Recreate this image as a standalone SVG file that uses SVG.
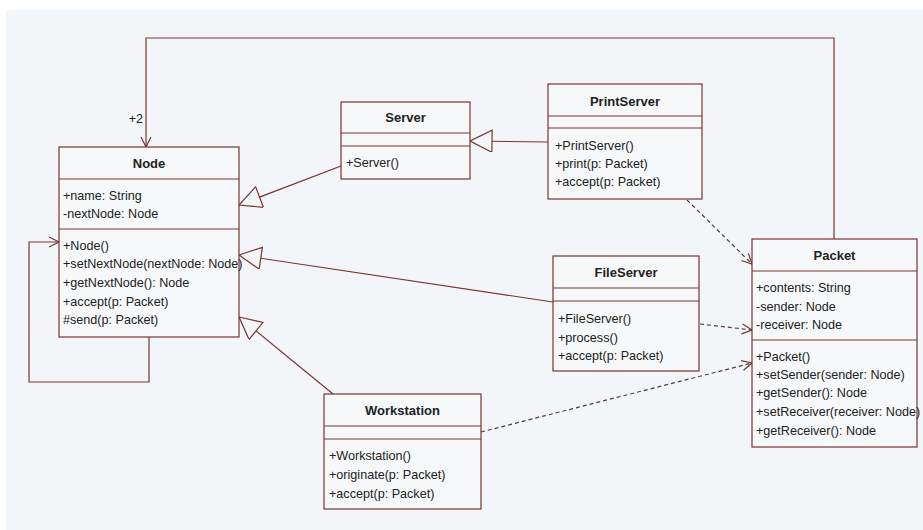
<svg xmlns="http://www.w3.org/2000/svg" width="923" height="530" viewBox="0 0 923 530">
  <style>
    .box { fill: #f6f8f9; stroke: #7a3434; stroke-width: 1.2; }
    .sep { stroke: #7a3434; stroke-width: 1.2; }
    .t { font-family: "Liberation Sans", Arial, sans-serif; font-size: 12.6px; fill: #222; }
    .title { font-family: "Liberation Sans", Arial, sans-serif; font-size: 13px; font-weight: bold; fill: #222; text-anchor: middle; }
    .edge { fill: none; stroke: #7a3434; stroke-width: 1.2; }
    .dep { fill: none; stroke: #5a3a3a; stroke-width: 1.2; stroke-dasharray: 4 3; }
  </style>
  <defs>
    <marker id="gen" viewBox="0 0 24 24" refX="23" refY="11" markerWidth="24" markerHeight="24" markerUnits="userSpaceOnUse" orient="auto">
      <path d="M1,0 L23,11 L1,22 Z" fill="#f3f6f8" stroke="#7a3434" stroke-width="1.2"/>
    </marker>
    <marker id="open" viewBox="0 0 12 12" refX="11" refY="6" markerWidth="12" markerHeight="12" markerUnits="userSpaceOnUse" orient="auto">
      <path d="M1,1 L11,6 L1,11" fill="none" stroke="#7a3434" stroke-width="1.2"/>
    </marker>
  </defs>

  <!-- page -->
  <rect x="0" y="0" width="923" height="530" fill="#ffffff"/>
  <rect x="6" y="10" width="917" height="520" fill="#f3f6f8"/>

  <!-- connectors -->
  <g id="connectors">
    <!-- generalizations -->
    <line class="edge" x1="341" y1="166" x2="239" y2="205" marker-end="url(#gen)"/>
    <line class="edge" x1="553" y1="302" x2="239" y2="255" marker-end="url(#gen)"/>
    <line class="edge" x1="333" y1="394" x2="239" y2="317" marker-end="url(#gen)"/>
    <line class="edge" x1="548" y1="142" x2="470" y2="141" marker-end="url(#gen)"/>
    <!-- self association on Node -->
    <polyline class="edge" points="149,337 149,382 29,382 29,242 59,242" marker-end="url(#open)"/>
    <!-- Packet to Node association -->
    <polyline class="edge" points="834,239 834,38 146,38 146,147" marker-end="url(#open)"/>
    <text class="t" x="143" y="123" text-anchor="end">+2</text>
    <!-- dependencies on Packet -->
    <line class="dep" x1="687" y1="200" x2="752" y2="264" marker-end="url(#open)"/>
    <line class="dep" x1="700" y1="324" x2="752" y2="330" marker-end="url(#open)"/>
    <line class="dep" x1="481" y1="432" x2="752" y2="363" marker-end="url(#open)"/>
  </g>

  <!-- Node -->
  <g id="node-Node">
    <rect class="box" x="59" y="147" width="180" height="190"/>
    <line class="sep" x1="59" y1="179" x2="239" y2="179"/>
    <line class="sep" x1="59" y1="229" x2="239" y2="229"/>
    <text class="title" x="149" y="168">Node</text>
    <text class="t" x="63" y="199.5">+name: String</text>
    <text class="t" x="63" y="217.5">-nextNode: Node</text>
    <text class="t" x="63" y="249.5">+Node()</text>
    <text class="t" x="63" y="268">+setNextNode(nextNode: Node)</text>
    <text class="t" x="63" y="286.5">+getNextNode(): Node</text>
    <text class="t" x="63" y="305.5">+accept(p: Packet)</text>
    <text class="t" x="63" y="324">#send(p: Packet)</text>
  </g>

  <!-- Server -->
  <g id="node-Server">
    <rect class="box" x="341" y="102" width="129" height="77"/>
    <line class="sep" x1="341" y1="133" x2="470" y2="133"/>
    <line class="sep" x1="341" y1="146" x2="470" y2="146"/>
    <text class="title" x="405.5" y="122">Server</text>
    <text class="t" x="346" y="167">+Server()</text>
  </g>

  <!-- PrintServer -->
  <g id="node-PrintServer">
    <rect class="box" x="548" y="84" width="154" height="115"/>
    <line class="sep" x1="548" y1="116" x2="702" y2="116"/>
    <line class="sep" x1="548" y1="128" x2="702" y2="128"/>
    <text class="title" x="625" y="105.5">PrintServer</text>
    <text class="t" x="555" y="149.5">+PrintServer()</text>
    <text class="t" x="555" y="168">+print(p: Packet)</text>
    <text class="t" x="555" y="186">+accept(p: Packet)</text>
  </g>

  <!-- FileServer -->
  <g id="node-FileServer">
    <rect class="box" x="553" y="256" width="146" height="115"/>
    <line class="sep" x1="553" y1="288" x2="699" y2="288"/>
    <line class="sep" x1="553" y1="301" x2="699" y2="301"/>
    <text class="title" x="626" y="277">FileServer</text>
    <text class="t" x="558" y="322.5">+FileServer()</text>
    <text class="t" x="558" y="341.5">+process()</text>
    <text class="t" x="558" y="359.5">+accept(p: Packet)</text>
  </g>

  <!-- Workstation -->
  <g id="node-Workstation">
    <rect class="box" x="324" y="394" width="157" height="115"/>
    <line class="sep" x1="324" y1="426" x2="481" y2="426"/>
    <line class="sep" x1="324" y1="439" x2="481" y2="439"/>
    <text class="title" x="402.5" y="415">Workstation</text>
    <text class="t" x="329" y="459.5">+Workstation()</text>
    <text class="t" x="329" y="478.5">+originate(p: Packet)</text>
    <text class="t" x="329" y="497.5">+accept(p: Packet)</text>
  </g>

  <!-- Packet -->
  <g id="node-Packet">
    <rect class="box" x="752" y="239" width="165" height="208"/>
    <line class="sep" x1="752" y1="271" x2="917" y2="271"/>
    <line class="sep" x1="752" y1="340" x2="917" y2="340"/>
    <text class="title" x="834.5" y="260">Packet</text>
    <text class="t" x="756" y="291.5">+contents: String</text>
    <text class="t" x="756" y="310.5">-sender: Node</text>
    <text class="t" x="756" y="328.5">-receiver: Node</text>
    <text class="t" x="756" y="360.5">+Packet()</text>
    <text class="t" x="756" y="378.5">+setSender(sender: Node)</text>
    <text class="t" x="756" y="397">+getSender(): Node</text>
    <text class="t" x="756" y="416">+setReceiver(receiver: Node)</text>
    <text class="t" x="756" y="434.5">+getReceiver(): Node</text>
  </g>
</svg>
